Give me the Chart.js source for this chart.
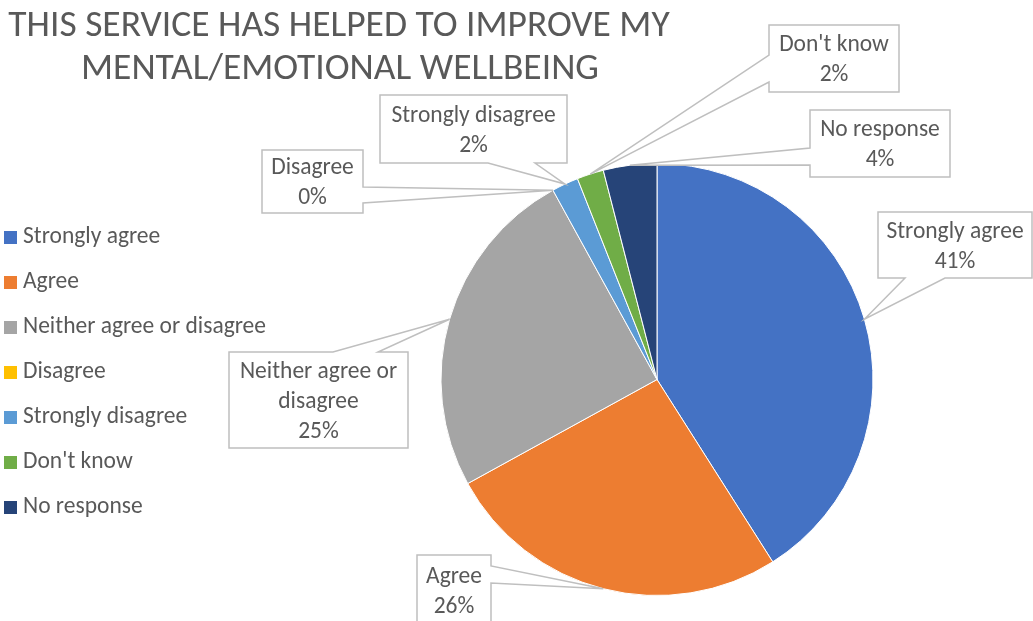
<!DOCTYPE html>
<html>
<head>
<meta charset="utf-8">
<title>Mental/emotional wellbeing</title>
<script src="https://cdn.jsdelivr.net/npm/chart.js@4.4.1/dist/chart.umd.min.js"></script>
<style>
  html, body { margin: 0; padding: 0; background: #fff; }
  #wrap { position: relative; width: 1033px; height: 621px; }
</style>
</head>
<body>
<div id="wrap"><canvas id="wellbeingChart" width="1033" height="621"></canvas></div>
<script>
const titleLines = ['THIS SERVICE HAS HELPED TO IMPROVE MY', 'MENTAL/EMOTIONAL WELLBEING'];
const categories = ['Strongly agree', 'Agree', 'Neither agree or disagree', 'Disagree', 'Strongly disagree', "Don't know", 'No response'];
const percentages = [41, 26, 25, 0, 2, 2, 4];
const sliceColors = ['#4472C4', '#ED7D31', '#A5A5A5', '#FFC000', '#5B9BD5', '#70AD47', '#264478'];
// label text as wrapped inside each callout
const calloutText = [['Strongly agree'], ['Agree'], ['Neither agree or', 'disagree'], ['Disagree'], ['Strongly disagree'], ["Don't know"], ['No response']];

// callout boxes: x, y, w, h, which side the pointer leaves from, pointer base range on that side
const calloutBoxes = [
    { x: 878, y: 212, w: 154, h: 66, side: 'bottom', a: 905, b: 945 },
    { x: 417, y: 555, w: 74,  h: 70, side: 'right',  a: 566, b: 583 },
    { x: 229, y: 352, w: 179, h: 96, side: 'top',    a: 333, b: 378 },
    { x: 262, y: 150, w: 101, h: 63, side: 'right',  a: 187, b: 203 },
    { x: 380, y: 95,  w: 187, h: 68, side: 'bottom', a: 488, b: 535 },
    { x: 769, y: 25,  w: 130, h: 67, side: 'left',   a: 55,  b: 82 },
    { x: 810, y: 110, w: 140, h: 67, side: 'left',   a: 148, b: 165 }
];

const FONT = 'Carlito, Calibri, Lato, sans-serif';
const TEXT_COLOR = '#595959';

const titleAndLegend = {
    id: 'titleAndLegend',
    afterDraw(chart) {
        const ctx = chart.ctx;
        ctx.save();
        ctx.fillStyle = TEXT_COLOR;
        ctx.textAlign = 'center';
        ctx.textBaseline = 'alphabetic';
        ctx.font = '37.5px ' + FONT;
        ctx.fillText(titleLines[0], 339, 36);
        ctx.fillText(titleLines[1], 340, 79);

        // legend down the left side
        ctx.textAlign = 'left';
        ctx.font = '23.5px ' + FONT;
        categories.forEach((name, i) => {
            const base = 243 + i * 45;
            ctx.fillStyle = sliceColors[i];
            ctx.fillRect(4, base - 12, 13, 13);
            ctx.fillStyle = TEXT_COLOR;
            ctx.fillText(name, 23, base);
        });
        ctx.restore();
    }
};

const callouts = {
    id: 'callouts',
    afterDatasetsDraw(chart) {
        const ctx = chart.ctx;
        const arcs = chart.getDatasetMeta(0).data;
        ctx.save();
        arcs.forEach((arc, i) => {
            const p = arc.getProps(['x', 'y', 'startAngle', 'endAngle', 'outerRadius'], true);
            const mid = (p.startAngle + p.endAngle) / 2;
            const tip = [p.x + Math.cos(mid) * p.outerRadius, p.y + Math.sin(mid) * p.outerRadius];
            const b = calloutBoxes[i];
            const r = b.x + b.w, btm = b.y + b.h;
            const pts = [[b.x, b.y]];
            if (b.side === 'top') pts.push([b.a, b.y], tip, [b.b, b.y]);
            pts.push([r, b.y]);
            if (b.side === 'right') pts.push([r, b.a], tip, [r, b.b]);
            pts.push([r, btm]);
            if (b.side === 'bottom') pts.push([b.b, btm], tip, [b.a, btm]);
            pts.push([b.x, btm]);
            if (b.side === 'left') pts.push([b.x, b.b], tip, [b.x, b.a]);

            ctx.beginPath();
            pts.forEach((pt, k) => k ? ctx.lineTo(pt[0], pt[1]) : ctx.moveTo(pt[0], pt[1]));
            ctx.closePath();
            ctx.fillStyle = '#ffffff';
            ctx.fill();
            ctx.strokeStyle = '#BFBFBF';
            ctx.lineWidth = 1.5;
            ctx.stroke();

            const lines = calloutText[i].concat([percentages[i] + '%']);
            const cx = b.x + b.w / 2, cy = b.y + b.h / 2;
            ctx.fillStyle = TEXT_COLOR;
            ctx.font = '23.5px ' + FONT;
            ctx.textAlign = 'center';
            ctx.textBaseline = 'alphabetic';
            lines.forEach((t, k) => {
                ctx.fillText(t, cx, cy + (k - (lines.length - 1) / 2) * 30 + 7.5);
            });
        });
        ctx.restore();
    }
};

new Chart(document.getElementById('wellbeingChart'), {
    type: 'pie',
    data: {
        labels: categories,
        datasets: [{
            data: percentages,
            backgroundColor: sliceColors,
            borderColor: '#ffffff',
            borderWidth: 1,
            hoverOffset: 0
        }]
    },
    options: {
        responsive: false,
        animation: false,
        devicePixelRatio: 1,
        layout: { padding: { left: 281, right: 0, top: 163, bottom: 25 } },
        plugins: {
            legend: { display: false },
            title: { display: false },
            tooltip: { enabled: false }
        }
    },
    plugins: [callouts, titleAndLegend]
});
</script>
</body>
</html>
